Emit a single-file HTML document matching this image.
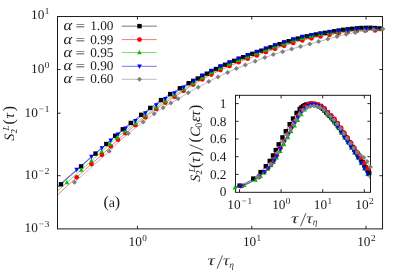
<!DOCTYPE html>
<html><head><meta charset="utf-8"><title>S2L(tau)</title>
<style>
html,body{margin:0;padding:0;background:#fff;}
body{width:407px;height:272px;overflow:hidden;font-family:"Liberation Serif",serif;}
svg{display:block;}
svg{font-family:"Liberation Serif",serif;font-size:13.3px;}
svg text{font-family:"Liberation Serif",serif;fill:#1a1a1a;text-rendering:geometricPrecision;}
</style></head>
<body>
<svg width="407" height="272" viewBox="0 0 407 272">
<defs>
<clipPath id="cm"><rect x="57.5" y="16.55" width="325.05" height="212.35"/></clipPath>
<clipPath id="ci"><rect x="235.5" y="95.3" width="135.00" height="97.00"/></clipPath>
</defs>
<rect width="407" height="272" fill="#fff"/>
<!-- inset background is transparent (gnuplot multiplot) -->
<g id="axes">
<rect x="57.5" y="16.55" width="325.05" height="212.35" fill="none" stroke="#111" stroke-width="0.95"/>
<path d="M57.5 69.5h3.1M382.55 69.5h-3.1" stroke="#111" stroke-width="0.9"/>
<path d="M57.5 113.2h3.1M382.55 113.2h-3.1" stroke="#111" stroke-width="0.9"/>
<path d="M57.5 175.7h3.1M382.55 175.7h-3.1" stroke="#111" stroke-width="0.9"/>
<path d="M137.45 228.9v-3.1M137.45 16.55v3.1" stroke="#111" stroke-width="0.9"/>
<path d="M251.75 228.9v-3.1M251.75 16.55v3.1" stroke="#111" stroke-width="0.9"/>
<path d="M366.05 228.9v-3.1M366.05 16.55v3.1" stroke="#111" stroke-width="0.9"/>
<rect x="235.5" y="95.3" width="135.00" height="97.00" fill="none" stroke="#111" stroke-width="0.95"/>
<path d="M235.5 174.40h3.1M370.5 174.40h-3.1" stroke="#111" stroke-width="0.9"/>
<path d="M235.5 156.70h3.1M370.5 156.70h-3.1" stroke="#111" stroke-width="0.9"/>
<path d="M235.5 139.00h3.1M370.5 139.00h-3.1" stroke="#111" stroke-width="0.9"/>
<path d="M235.5 121.30h3.1M370.5 121.30h-3.1" stroke="#111" stroke-width="0.9"/>
<path d="M235.5 103.60h3.1M370.5 103.60h-3.1" stroke="#111" stroke-width="0.9"/>
<path d="M239.50 192.3v-3.1M239.50 95.3v3.1" stroke="#111" stroke-width="0.9"/>
<path d="M281.10 192.3v-3.1M281.10 95.3v3.1" stroke="#111" stroke-width="0.9"/>
<path d="M322.70 192.3v-3.1M322.70 95.3v3.1" stroke="#111" stroke-width="0.9"/>
<path d="M364.30 192.3v-3.1M364.30 95.3v3.1" stroke="#111" stroke-width="0.9"/>
</g>
<g id="series" style="filter:blur(0.35px)">
<g clip-path="url(#cm)"><path d="M57.50 187.39L59.84 185.33L62.18 183.26L64.52 181.18L66.85 179.10L69.19 177.02L71.53 174.93L73.87 172.85L76.21 170.76L78.55 168.67L80.88 166.59L83.22 164.51L85.56 162.43L87.90 160.35L90.24 158.28L92.58 156.20L94.92 154.12L97.25 152.04L99.59 149.98L101.93 147.91L104.27 145.83L106.61 143.72L108.95 141.56L111.29 139.38L113.62 137.22L115.96 135.13L118.30 133.09L120.64 131.10L122.98 129.15L125.32 127.26L127.65 125.41L129.99 123.58L132.33 121.74L134.67 119.91L137.01 118.09L139.35 116.27L141.69 114.47L144.02 112.68L146.36 110.89L148.70 109.13L151.04 107.37L153.38 105.61L155.72 103.87L158.06 102.16L160.39 100.50L162.73 98.91L165.07 97.36L167.41 95.85L169.75 94.37L172.09 92.93L174.42 91.54L176.76 90.16L179.10 88.76L181.44 87.34L183.78 85.94L186.12 84.58L188.46 83.30L190.79 82.07L193.13 80.89L195.47 79.70L197.81 78.50L200.15 77.26L202.49 76.02L204.82 74.78L207.16 73.55L209.50 72.32L211.84 71.11L214.18 69.91L216.52 68.75L218.86 67.60L221.19 66.49L223.53 65.40L225.87 64.36L228.21 63.34L230.55 62.35L232.89 61.38L235.23 60.41L237.56 59.46L239.90 58.52L242.24 57.59L244.58 56.70L246.92 55.82L249.26 54.96L251.59 54.11L253.93 53.28L256.27 52.46L258.61 51.65L260.95 50.82L263.29 49.97L265.63 49.10L267.96 48.24L270.30 47.39L272.64 46.56L274.98 45.74L277.32 44.94L279.66 44.15L281.99 43.37L284.33 42.61L286.67 41.86L289.01 41.14L291.35 40.42L293.69 39.72L296.03 39.04L298.36 38.40L300.70 37.79L303.04 37.20L305.38 36.64L307.72 36.12L310.06 35.63L312.40 35.16L314.73 34.71L317.07 34.28L319.41 33.86L321.75 33.45L324.09 33.03L326.43 32.62L328.76 32.22L331.10 31.82L333.44 31.42L335.78 31.02L338.12 30.62L340.46 30.23L342.80 29.89L345.13 29.59L347.47 29.32L349.81 29.06L352.15 28.81L354.49 28.57L356.83 28.33L359.17 28.12L361.50 27.99L363.84 27.91L366.18 27.85L368.52 27.81L370.86 27.81L373.20 27.90L375.53 28.07L377.87 28.27L380.21 28.46L382.55 28.67" fill="none" stroke="#000000" stroke-width="0.55" /></g>
<rect x="58.80" y="182.10" width="4.40" height="4.40" fill="#000000"/>
<rect x="78.90" y="164.20" width="4.40" height="4.40" fill="#000000"/>
<rect x="93.30" y="151.40" width="4.40" height="4.40" fill="#000000"/>
<rect x="104.10" y="141.80" width="4.40" height="4.40" fill="#000000"/>
<rect x="113.00" y="133.60" width="4.40" height="4.40" fill="#000000"/>
<rect x="120.60" y="127.10" width="4.40" height="4.40" fill="#000000"/>
<rect x="128.60" y="120.74" width="4.40" height="4.40" fill="#000000"/>
<rect x="139.00" y="112.65" width="4.40" height="4.40" fill="#000000"/>
<rect x="148.10" y="105.73" width="4.40" height="4.40" fill="#000000"/>
<rect x="158.80" y="97.89" width="4.40" height="4.40" fill="#000000"/>
<rect x="168.00" y="91.89" width="4.40" height="4.40" fill="#000000"/>
<rect x="177.70" y="86.08" width="4.40" height="4.40" fill="#000000"/>
<rect x="186.45" y="80.99" width="4.40" height="4.40" fill="#000000"/>
<rect x="191.00" y="78.66" width="4.40" height="4.40" fill="#000000"/>
<rect x="195.54" y="76.34" width="4.40" height="4.40" fill="#000000"/>
<rect x="200.09" y="73.92" width="4.40" height="4.40" fill="#000000"/>
<rect x="204.63" y="71.53" width="4.40" height="4.40" fill="#000000"/>
<rect x="209.18" y="69.15" width="4.40" height="4.40" fill="#000000"/>
<rect x="213.72" y="66.84" width="4.40" height="4.40" fill="#000000"/>
<rect x="218.27" y="64.63" width="4.40" height="4.40" fill="#000000"/>
<rect x="222.81" y="62.54" width="4.40" height="4.40" fill="#000000"/>
<rect x="227.36" y="60.57" width="4.40" height="4.40" fill="#000000"/>
<rect x="231.90" y="58.68" width="4.40" height="4.40" fill="#000000"/>
<rect x="236.45" y="56.82" width="4.40" height="4.40" fill="#000000"/>
<rect x="240.99" y="55.03" width="4.40" height="4.40" fill="#000000"/>
<rect x="245.54" y="53.32" width="4.40" height="4.40" fill="#000000"/>
<rect x="250.08" y="51.66" width="4.40" height="4.40" fill="#000000"/>
<rect x="254.62" y="50.07" width="4.40" height="4.40" fill="#000000"/>
<rect x="259.17" y="48.47" width="4.40" height="4.40" fill="#000000"/>
<rect x="263.72" y="46.79" width="4.40" height="4.40" fill="#000000"/>
<rect x="268.26" y="45.14" width="4.40" height="4.40" fill="#000000"/>
<rect x="272.81" y="43.53" width="4.40" height="4.40" fill="#000000"/>
<rect x="277.35" y="41.98" width="4.40" height="4.40" fill="#000000"/>
<rect x="281.90" y="40.49" width="4.40" height="4.40" fill="#000000"/>
<rect x="286.44" y="39.05" width="4.40" height="4.40" fill="#000000"/>
<rect x="290.99" y="37.67" width="4.40" height="4.40" fill="#000000"/>
<rect x="295.53" y="36.37" width="4.40" height="4.40" fill="#000000"/>
<rect x="300.07" y="35.19" width="4.40" height="4.40" fill="#000000"/>
<rect x="304.62" y="34.12" width="4.40" height="4.40" fill="#000000"/>
<rect x="309.17" y="33.16" width="4.40" height="4.40" fill="#000000"/>
<rect x="313.71" y="32.29" width="4.40" height="4.40" fill="#000000"/>
<rect x="318.26" y="31.48" width="4.40" height="4.40" fill="#000000"/>
<rect x="322.80" y="30.67" width="4.40" height="4.40" fill="#000000"/>
<rect x="327.35" y="29.89" width="4.40" height="4.40" fill="#000000"/>
<rect x="331.89" y="29.11" width="4.40" height="4.40" fill="#000000"/>
<rect x="336.44" y="28.33" width="4.40" height="4.40" fill="#000000"/>
<rect x="340.98" y="27.64" width="4.40" height="4.40" fill="#000000"/>
<rect x="345.53" y="27.09" width="4.40" height="4.40" fill="#000000"/>
<rect x="350.07" y="26.60" width="4.40" height="4.40" fill="#000000"/>
<rect x="354.62" y="26.13" width="4.40" height="4.40" fill="#000000"/>
<rect x="359.16" y="25.80" width="4.40" height="4.40" fill="#000000"/>
<rect x="363.70" y="25.66" width="4.40" height="4.40" fill="#000000"/>
<rect x="368.25" y="25.60" width="4.40" height="4.40" fill="#000000"/>
<rect x="372.80" y="25.83" width="4.40" height="4.40" fill="#000000"/>
<rect x="377.34" y="26.21" width="4.40" height="4.40" fill="#000000"/>
<g clip-path="url(#cm)"><path d="M57.50 194.94L59.84 192.78L62.18 190.62L64.52 188.46L66.85 186.30L69.19 184.15L71.53 182.01L73.87 179.88L76.21 177.76L78.55 175.65L80.88 173.54L83.22 171.44L85.56 169.35L87.90 167.26L90.24 165.17L92.58 163.08L94.92 160.98L97.25 158.89L99.59 156.80L101.93 154.71L104.27 152.59L106.61 150.44L108.95 148.22L111.29 145.96L113.62 143.72L115.96 141.55L118.30 139.42L120.64 137.34L122.98 135.31L125.32 133.33L127.65 131.40L129.99 129.50L132.33 127.60L134.67 125.71L137.01 123.85L139.35 122.00L141.69 120.16L144.02 118.34L146.36 116.52L148.70 114.72L151.04 112.94L153.38 111.16L155.72 109.38L158.06 107.65L160.39 105.97L162.73 104.35L165.07 102.78L167.41 101.25L169.75 99.75L172.09 98.28L174.42 96.85L176.76 95.41L179.10 93.91L181.44 92.34L183.78 90.73L186.12 89.13L188.46 87.60L190.79 86.12L193.13 84.66L195.47 83.25L197.81 81.87L200.15 80.56L202.49 79.30L204.82 78.05L207.16 76.81L209.50 75.58L211.84 74.35L214.18 73.15L216.52 71.98L218.86 70.83L221.19 69.71L223.53 68.62L225.87 67.57L228.21 66.55L230.55 65.55L232.89 64.57L235.23 63.60L237.56 62.63L239.90 61.69L242.24 60.76L244.58 59.85L246.92 58.97L249.26 58.11L251.59 57.25L253.93 56.41L256.27 55.59L258.61 54.77L260.95 53.93L263.29 53.07L265.63 52.20L267.96 51.33L270.30 50.48L272.64 49.65L274.98 48.82L277.32 48.01L279.66 47.21L281.99 46.43L284.33 45.67L286.67 44.91L289.01 44.18L291.35 43.46L293.69 42.75L296.03 42.06L298.36 41.41L300.70 40.79L303.04 40.18L305.38 39.60L307.72 39.05L310.06 38.52L312.40 38.01L314.73 37.52L317.07 37.05L319.41 36.59L321.75 36.14L324.09 35.71L326.43 35.31L328.76 34.94L331.10 34.59L333.44 34.22L335.78 33.83L338.12 33.43L340.46 33.02L342.80 32.63L345.13 32.26L347.47 31.90L349.81 31.57L352.15 31.27L354.49 30.99L356.83 30.73L359.17 30.52L361.50 30.39L363.84 30.31L366.18 30.25L368.52 30.21L370.86 30.21L373.20 30.31L375.53 30.49L377.87 30.70L380.21 30.90L382.55 31.11" fill="none" stroke="#ff0000" stroke-width="0.55" /></g>
<circle cx="76.70" cy="177.31" r="2.40" fill="#ff0000"/>
<circle cx="91.50" cy="164.04" r="2.40" fill="#ff0000"/>
<circle cx="101.90" cy="154.74" r="2.40" fill="#ff0000"/>
<circle cx="110.80" cy="146.43" r="2.40" fill="#ff0000"/>
<circle cx="118.00" cy="139.70" r="2.40" fill="#ff0000"/>
<circle cx="125.50" cy="133.18" r="2.40" fill="#ff0000"/>
<circle cx="135.40" cy="125.13" r="2.40" fill="#ff0000"/>
<circle cx="145.40" cy="117.27" r="2.40" fill="#ff0000"/>
<circle cx="156.30" cy="108.95" r="2.40" fill="#ff0000"/>
<circle cx="165.30" cy="102.63" r="2.40" fill="#ff0000"/>
<circle cx="174.60" cy="96.74" r="2.40" fill="#ff0000"/>
<circle cx="183.60" cy="90.85" r="2.40" fill="#ff0000"/>
<circle cx="193.20" cy="84.62" r="2.40" fill="#ff0000"/>
<circle cx="202.29" cy="79.40" r="2.40" fill="#ff0000"/>
<circle cx="211.38" cy="74.59" r="2.40" fill="#ff0000"/>
<circle cx="220.47" cy="70.05" r="2.40" fill="#ff0000"/>
<circle cx="229.56" cy="65.97" r="2.40" fill="#ff0000"/>
<circle cx="238.65" cy="62.19" r="2.40" fill="#ff0000"/>
<circle cx="247.74" cy="58.67" r="2.40" fill="#ff0000"/>
<circle cx="256.83" cy="55.39" r="2.40" fill="#ff0000"/>
<circle cx="265.92" cy="52.09" r="2.40" fill="#ff0000"/>
<circle cx="275.01" cy="48.81" r="2.40" fill="#ff0000"/>
<circle cx="284.10" cy="45.74" r="2.40" fill="#ff0000"/>
<circle cx="293.19" cy="42.90" r="2.40" fill="#ff0000"/>
<circle cx="302.28" cy="40.38" r="2.40" fill="#ff0000"/>
<circle cx="311.37" cy="38.23" r="2.40" fill="#ff0000"/>
<circle cx="320.46" cy="36.38" r="2.40" fill="#ff0000"/>
<circle cx="329.55" cy="34.82" r="2.40" fill="#ff0000"/>
<circle cx="338.64" cy="33.34" r="2.40" fill="#ff0000"/>
<circle cx="347.73" cy="31.86" r="2.40" fill="#ff0000"/>
<circle cx="356.82" cy="30.73" r="2.40" fill="#ff0000"/>
<circle cx="365.91" cy="30.26" r="2.40" fill="#ff0000"/>
<circle cx="375.00" cy="30.44" r="2.40" fill="#ff0000"/>
<g clip-path="url(#cm)"><path d="M57.50 190.88L59.84 188.84L62.18 186.79L64.52 184.73L66.85 182.66L69.19 180.59L71.53 178.51L73.87 176.44L76.21 174.35L78.55 172.27L80.88 170.19L83.22 168.11L85.56 166.02L87.90 163.93L90.24 161.83L92.58 159.73L94.92 157.63L97.25 155.53L99.59 153.44L101.93 151.35L104.27 149.25L106.61 147.13L108.95 144.96L111.29 142.79L113.62 140.66L115.96 138.63L118.30 136.68L120.64 134.77L122.98 132.91L125.32 131.09L127.65 129.29L129.99 127.48L132.33 125.64L134.67 123.81L137.01 121.99L139.35 120.17L141.69 118.37L144.02 116.58L146.36 114.79L148.70 113.01L151.04 111.24L153.38 109.46L155.72 107.69L158.06 105.95L160.39 104.26L162.73 102.64L165.07 101.06L167.41 99.52L169.75 98.02L172.09 96.56L174.42 95.13L176.76 93.72L179.10 92.28L181.44 90.79L183.78 89.24L186.12 87.66L188.46 86.12L190.79 84.65L193.13 83.22L195.47 81.80L197.81 80.39L200.15 79.01L202.49 77.71L204.82 76.43L207.16 75.17L209.50 73.90L211.84 72.65L214.18 71.42L216.52 70.22L218.86 69.05L221.19 67.91L223.53 66.79L225.87 65.72L228.21 64.68L230.55 63.67L232.89 62.67L235.23 61.68L237.56 60.70L239.90 59.74L242.24 58.80L244.58 57.89L246.92 56.99L249.26 56.12L251.59 55.25L253.93 54.40L256.27 53.57L258.61 52.74L260.95 51.90L263.29 51.04L265.63 50.16L267.96 49.28L270.30 48.43L272.64 47.59L274.98 46.76L277.32 45.94L279.66 45.14L281.99 44.35L284.33 43.58L286.67 42.82L289.01 42.08L291.35 41.36L293.69 40.65L296.03 39.96L298.36 39.31L300.70 38.69L303.04 38.09L305.38 37.52L307.72 36.98L310.06 36.48L312.40 36.00L314.73 35.54L317.07 35.10L319.41 34.67L321.75 34.26L324.09 33.88L326.43 33.52L328.76 33.19L331.10 32.88L333.44 32.57L335.78 32.25L338.12 31.92L340.46 31.60L342.80 31.29L345.13 31.00L347.47 30.72L349.81 30.45L352.15 30.20L354.49 29.95L356.83 29.70L359.17 29.48L361.50 29.35L363.84 29.26L366.18 29.19L368.52 29.15L370.86 29.14L373.20 29.23L375.53 29.39L377.87 29.59L380.21 29.78L382.55 29.98" fill="none" stroke="#00c000" stroke-width="0.55" /></g>
<path d="M66.90 179.97L69.20 184.34L64.60 184.34Z" fill="#00c000"/>
<path d="M81.20 167.27L83.50 171.64L78.90 171.64Z" fill="#00c000"/>
<path d="M91.40 158.14L93.70 162.51L89.10 162.51Z" fill="#00c000"/>
<path d="M101.60 149.00L103.90 153.37L99.30 153.37Z" fill="#00c000"/>
<path d="M110.00 141.33L112.30 145.70L107.70 145.70Z" fill="#00c000"/>
<path d="M117.00 135.11L119.30 139.48L114.70 139.48Z" fill="#00c000"/>
<path d="M125.50 128.31L127.80 132.68L123.20 132.68Z" fill="#00c000"/>
<path d="M135.40 120.59L137.70 124.96L133.10 124.96Z" fill="#00c000"/>
<path d="M145.40 112.88L147.70 117.25L143.10 117.25Z" fill="#00c000"/>
<path d="M156.30 104.61L158.60 108.98L154.00 108.98Z" fill="#00c000"/>
<path d="M165.30 98.26L167.60 102.63L163.00 102.63Z" fill="#00c000"/>
<path d="M174.60 92.38L176.90 96.75L172.30 96.75Z" fill="#00c000"/>
<path d="M183.60 86.71L185.90 91.08L181.30 91.08Z" fill="#00c000"/>
<path d="M193.20 80.53L195.50 84.90L190.90 84.90Z" fill="#00c000"/>
<path d="M202.29 75.17L204.59 79.54L199.99 79.54Z" fill="#00c000"/>
<path d="M211.38 70.25L213.68 74.62L209.08 74.62Z" fill="#00c000"/>
<path d="M220.47 65.61L222.77 69.98L218.17 69.98Z" fill="#00c000"/>
<path d="M229.56 61.45L231.86 65.82L227.26 65.82Z" fill="#00c000"/>
<path d="M238.65 57.61L240.95 61.98L236.35 61.98Z" fill="#00c000"/>
<path d="M247.74 54.04L250.04 58.41L245.44 58.41Z" fill="#00c000"/>
<path d="M256.83 50.73L259.13 55.10L254.53 55.10Z" fill="#00c000"/>
<path d="M265.92 47.40L268.22 51.77L263.62 51.77Z" fill="#00c000"/>
<path d="M275.01 44.10L277.31 48.47L272.71 48.47Z" fill="#00c000"/>
<path d="M284.10 41.01L286.40 45.38L281.80 45.38Z" fill="#00c000"/>
<path d="M293.19 38.15L295.49 42.52L290.89 42.52Z" fill="#00c000"/>
<path d="M302.28 35.63L304.58 40.00L299.98 40.00Z" fill="#00c000"/>
<path d="M311.37 33.56L313.67 37.93L309.07 37.93Z" fill="#00c000"/>
<path d="M320.46 31.84L322.76 36.21L318.16 36.21Z" fill="#00c000"/>
<path d="M329.55 30.44L331.85 34.81L327.25 34.81Z" fill="#00c000"/>
<path d="M338.64 29.20L340.94 33.57L336.34 33.57Z" fill="#00c000"/>
<path d="M347.73 28.04L350.03 32.41L345.43 32.41Z" fill="#00c000"/>
<path d="M356.82 27.05L359.12 31.42L354.52 31.42Z" fill="#00c000"/>
<path d="M365.91 26.56L368.21 30.93L363.61 30.93Z" fill="#00c000"/>
<path d="M375.00 26.71L377.30 31.08L372.70 31.08Z" fill="#00c000"/>
<g clip-path="url(#cm)"><path d="M57.50 186.40L59.84 184.35L62.18 182.30L64.52 180.24L66.85 178.18L69.19 176.12L71.53 174.05L73.87 171.99L76.21 169.94L78.55 167.88L80.88 165.84L83.22 163.79L85.56 161.75L87.90 159.72L90.24 157.68L92.58 155.68L94.92 153.71L97.25 151.77L99.59 149.86L101.93 147.94L104.27 145.99L106.61 144.00L108.95 141.95L111.29 139.87L113.62 137.82L115.96 135.83L118.30 133.91L120.64 132.04L122.98 130.23L125.32 128.44L127.65 126.66L129.99 124.88L132.33 123.09L134.67 121.30L137.01 119.49L139.35 117.69L141.69 115.90L144.02 114.12L146.36 112.34L148.70 110.58L151.04 108.83L153.38 107.08L155.72 105.35L158.06 103.64L160.39 101.99L162.73 100.40L165.07 98.85L167.41 97.35L169.75 95.87L172.09 94.43L174.42 93.04L176.76 91.64L179.10 90.20L181.44 88.68L183.78 87.12L186.12 85.55L188.46 84.01L190.79 82.53L193.13 81.00L195.47 79.43L197.81 77.88L200.15 76.42L202.49 75.12L204.82 73.88L207.16 72.65L209.50 71.42L211.84 70.21L214.18 69.01L216.52 67.85L218.86 66.71L221.19 65.59L223.53 64.51L225.87 63.46L228.21 62.45L230.55 61.46L232.89 60.49L235.23 59.52L237.56 58.57L239.90 57.63L242.24 56.71L244.58 55.81L246.92 54.94L249.26 54.08L251.59 53.23L253.93 52.40L256.27 51.59L258.61 50.78L260.95 49.95L263.29 49.10L265.63 48.24L267.96 47.38L270.30 46.54L272.64 45.71L274.98 44.90L277.32 44.09L279.66 43.31L281.99 42.54L284.33 41.78L286.67 41.04L289.01 40.31L291.35 39.60L293.69 38.91L296.03 38.24L298.36 37.60L300.70 36.99L303.04 36.41L305.38 35.87L307.72 35.37L310.06 34.90L312.40 34.46L314.73 34.04L317.07 33.65L319.41 33.27L321.75 32.91L324.09 32.58L326.43 32.27L328.76 31.99L331.10 31.74L333.44 31.50L335.78 31.26L338.12 31.03L340.46 30.80L342.80 30.59L345.13 30.38L347.47 30.17L349.81 29.95L352.15 29.71L354.49 29.47L356.83 29.23L359.17 29.02L361.50 28.89L363.84 28.81L366.18 28.75L368.52 28.71L370.86 28.71L373.20 28.80L375.53 28.97L377.87 29.17L380.21 29.36L382.55 29.57" fill="none" stroke="#0000ff" stroke-width="0.55" /></g>
<path d="M76.70 172.15L79.00 167.78L74.40 167.78Z" fill="#0000ff"/>
<path d="M91.50 159.24L93.80 154.87L89.20 154.87Z" fill="#0000ff"/>
<path d="M101.90 150.61L104.20 146.24L99.60 146.24Z" fill="#0000ff"/>
<path d="M110.80 142.95L113.10 138.58L108.50 138.58Z" fill="#0000ff"/>
<path d="M118.00 136.80L120.30 132.43L115.70 132.43Z" fill="#0000ff"/>
<path d="M125.50 130.94L127.80 126.57L123.20 126.57Z" fill="#0000ff"/>
<path d="M135.40 123.38L137.70 119.01L133.10 119.01Z" fill="#0000ff"/>
<path d="M145.40 115.72L147.70 111.35L143.10 111.35Z" fill="#0000ff"/>
<path d="M156.30 107.56L158.60 103.19L154.00 103.19Z" fill="#0000ff"/>
<path d="M165.30 101.35L167.60 96.98L163.00 96.98Z" fill="#0000ff"/>
<path d="M174.60 95.58L176.90 91.21L172.30 91.21Z" fill="#0000ff"/>
<path d="M183.60 89.88L185.90 85.51L181.30 85.51Z" fill="#0000ff"/>
<path d="M193.20 83.60L195.50 79.23L190.90 79.23Z" fill="#0000ff"/>
<path d="M202.29 77.86L204.59 73.49L199.99 73.49Z" fill="#0000ff"/>
<path d="M211.38 73.09L213.68 68.72L209.08 68.72Z" fill="#0000ff"/>
<path d="M220.47 68.58L222.77 64.21L218.17 64.21Z" fill="#0000ff"/>
<path d="M229.56 64.52L231.86 60.15L227.26 60.15Z" fill="#0000ff"/>
<path d="M238.65 60.77L240.95 56.40L236.35 56.40Z" fill="#0000ff"/>
<path d="M247.74 57.28L250.04 52.91L245.44 52.91Z" fill="#0000ff"/>
<path d="M256.83 54.04L259.13 49.67L254.53 49.67Z" fill="#0000ff"/>
<path d="M265.92 50.78L268.22 46.41L263.62 46.41Z" fill="#0000ff"/>
<path d="M275.01 47.53L277.31 43.16L272.71 43.16Z" fill="#0000ff"/>
<path d="M284.10 44.50L286.40 40.13L281.80 40.13Z" fill="#0000ff"/>
<path d="M293.19 41.70L295.49 37.33L290.89 37.33Z" fill="#0000ff"/>
<path d="M302.28 39.24L304.58 34.87L299.98 34.87Z" fill="#0000ff"/>
<path d="M311.37 37.29L313.67 32.92L309.07 32.92Z" fill="#0000ff"/>
<path d="M320.46 35.75L322.76 31.38L318.16 31.38Z" fill="#0000ff"/>
<path d="M329.55 34.55L331.85 30.18L327.25 30.18Z" fill="#0000ff"/>
<path d="M338.64 33.62L340.94 29.25L336.34 29.25Z" fill="#0000ff"/>
<path d="M347.73 32.79L350.03 28.42L345.43 28.42Z" fill="#0000ff"/>
<path d="M356.82 31.87L359.12 27.50L354.52 27.50Z" fill="#0000ff"/>
<path d="M365.91 31.40L368.21 27.03L363.61 27.03Z" fill="#0000ff"/>
<path d="M375.00 31.57L377.30 27.20L372.70 27.20Z" fill="#0000ff"/>
<g clip-path="url(#cm)"><path d="M74.50 182.26L76.21 180.74L78.55 178.66L80.88 176.58L83.22 174.50L85.56 172.43L87.90 170.35L90.24 168.27L92.58 166.20L94.92 164.12L97.25 162.04L99.59 159.98L101.93 157.91L104.27 155.83L106.61 153.72L108.95 151.56L111.29 149.33L113.62 147.03L115.96 144.74L118.30 142.46L120.64 140.23L122.98 138.06L125.32 135.99L127.65 134.03L129.99 132.18L132.33 130.35L134.67 128.53L137.01 126.73L139.35 124.94L141.69 123.17L144.02 121.40L146.36 119.65L148.70 117.91L151.04 116.18L153.38 114.46L155.72 112.77L158.06 111.11L160.39 109.51L162.73 107.98L165.07 106.50L167.41 105.05L169.75 103.64L172.09 102.27L174.42 100.93L176.76 99.60L179.10 98.26L181.44 96.87L183.78 95.44L186.12 94.02L188.46 92.63L190.79 91.28L193.13 89.98L195.47 88.70L197.81 87.42L200.15 86.16L202.49 84.92L204.82 83.68L207.16 82.45L209.50 81.22L211.84 80.01L214.18 78.81L216.52 77.65L218.86 76.50L221.19 75.38L223.53 74.27L225.87 73.20L228.21 72.15L230.55 71.12L232.89 70.10L235.23 69.09L237.56 68.09L239.90 67.10L242.24 66.14L244.58 65.20L246.92 64.29L249.26 63.38L251.59 62.49L253.93 61.61L256.27 60.75L258.61 59.90L260.95 59.04L263.29 58.17L265.63 57.30L267.96 56.45L270.30 55.62L272.64 54.82L274.98 54.04L277.32 53.28L279.66 52.54L281.99 51.81L284.33 51.10L286.67 50.40L289.01 49.72L291.35 49.04L293.69 48.38L296.03 47.73L298.36 47.10L300.70 46.49L303.04 45.86L305.38 45.22L307.72 44.58L310.06 43.93L312.40 43.29L314.73 42.65L317.07 42.03L319.41 41.41L321.75 40.80L324.09 40.15L326.43 39.48L328.76 38.82L331.10 38.16L333.44 37.51L335.78 36.86L338.12 36.24L340.46 35.63L342.80 35.04L345.13 34.48L347.47 33.97L349.81 33.50L352.15 33.06L354.49 32.63L356.83 32.20L359.17 31.80L361.50 31.46L363.84 31.13L366.18 30.77L368.52 30.38L370.86 30.00L373.20 29.72L375.53 29.52L377.87 29.29L380.21 29.08L382.55 29.00" fill="none" stroke="#7f7f7f" stroke-width="0.55" /></g>
<path d="M74.50 179.76L77.00 182.26L74.50 184.76L72.00 182.26Z" fill="#7f7f7f"/>
<path d="M109.20 148.83L111.70 151.33L109.20 153.83L106.70 151.33Z" fill="#7f7f7f"/>
<path d="M128.20 131.09L130.70 133.59L128.20 136.09L125.70 133.59Z" fill="#7f7f7f"/>
<path d="M143.20 119.52L145.70 122.02L143.20 124.52L140.70 122.02Z" fill="#7f7f7f"/>
<path d="M154.20 111.36L156.70 113.86L154.20 116.36L151.70 113.86Z" fill="#7f7f7f"/>
<path d="M163.10 105.25L165.60 107.75L163.10 110.25L160.60 107.75Z" fill="#7f7f7f"/>
<path d="M170.80 100.51L173.30 103.01L170.80 105.51L168.30 103.01Z" fill="#7f7f7f"/>
<path d="M178.10 96.34L180.60 98.84L178.10 101.34L175.60 98.84Z" fill="#7f7f7f"/>
<path d="M188.30 90.22L190.80 92.72L188.30 95.22L185.80 92.72Z" fill="#7f7f7f"/>
<path d="M198.20 84.71L200.70 87.21L198.20 89.71L195.70 87.21Z" fill="#7f7f7f"/>
<path d="M208.80 79.09L211.30 81.59L208.80 84.09L206.30 81.59Z" fill="#7f7f7f"/>
<path d="M218.00 74.42L220.50 76.92L218.00 79.42L215.50 76.92Z" fill="#7f7f7f"/>
<path d="M227.60 69.92L230.10 72.42L227.60 74.92L225.10 72.42Z" fill="#7f7f7f"/>
<path d="M236.40 66.09L238.90 68.59L236.40 71.09L233.90 68.59Z" fill="#7f7f7f"/>
<path d="M245.30 62.42L247.80 64.92L245.30 67.42L242.80 64.92Z" fill="#7f7f7f"/>
<path d="M255.20 58.64L257.70 61.14L255.20 63.64L252.70 61.14Z" fill="#7f7f7f"/>
<path d="M264.80 55.11L267.30 57.61L264.80 60.11L262.30 57.61Z" fill="#7f7f7f"/>
<path d="M273.30 52.10L275.80 54.60L273.30 57.10L270.80 54.60Z" fill="#7f7f7f"/>
<path d="M282.60 49.13L285.10 51.63L282.60 54.13L280.10 51.63Z" fill="#7f7f7f"/>
<path d="M291.60 46.47L294.10 48.97L291.60 51.47L289.10 48.97Z" fill="#7f7f7f"/>
<path d="M300.50 44.04L303.00 46.54L300.50 49.04L298.00 46.54Z" fill="#7f7f7f"/>
<path d="M309.80 41.50L312.30 44.00L309.80 46.50L307.30 44.00Z" fill="#7f7f7f"/>
<path d="M318.60 39.12L321.10 41.62L318.60 44.12L316.10 41.62Z" fill="#7f7f7f"/>
<path d="M327.80 36.59L330.30 39.09L327.80 41.59L325.30 39.09Z" fill="#7f7f7f"/>
<path d="M337.00 34.04L339.50 36.54L337.00 39.04L334.50 36.54Z" fill="#7f7f7f"/>
<path d="M346.20 31.74L348.70 34.24L346.20 36.74L343.70 34.24Z" fill="#7f7f7f"/>
<path d="M355.20 30.00L357.70 32.50L355.20 35.00L352.70 32.50Z" fill="#7f7f7f"/>
<path d="M364.70 28.50L367.20 31.00L364.70 33.50L362.20 31.00Z" fill="#7f7f7f"/>
<path d="M373.70 27.18L376.20 29.68L373.70 32.18L371.20 29.68Z" fill="#7f7f7f"/>
<path d="M382.90 26.50L385.40 29.00L382.90 31.50L380.40 29.00Z" fill="#7f7f7f"/>
<g clip-path="url(#ci)"><path d="M235.50 186.83L236.63 186.52L237.77 186.19L238.90 185.84L240.04 185.45L241.17 185.02L242.31 184.54L243.44 184.03L244.58 183.50L245.71 182.94L246.84 182.38L247.98 181.80L249.11 181.20L250.25 180.56L251.38 179.87L252.52 179.12L253.65 178.30L254.79 177.41L255.92 176.46L257.05 175.46L258.19 174.42L259.32 173.36L260.46 172.26L261.59 171.10L262.73 169.88L263.86 168.60L265.00 167.27L266.13 165.88L267.26 164.42L268.40 162.88L269.53 161.25L270.67 159.50L271.80 157.61L272.94 155.62L274.07 153.53L275.21 151.26L276.34 148.92L277.47 146.64L278.61 144.49L279.74 142.41L280.88 140.34L282.01 138.26L283.15 136.14L284.28 134.00L285.42 131.88L286.55 129.80L287.68 127.74L288.82 125.72L289.95 123.73L291.09 121.78L292.22 119.86L293.36 117.99L294.49 116.15L295.63 114.30L296.76 112.59L297.89 111.11L299.03 109.78L300.16 108.58L301.30 107.56L302.43 106.69L303.57 105.89L304.70 105.22L305.84 104.75L306.97 104.44L308.11 104.16L309.24 103.94L310.37 103.82L311.51 103.82L312.64 103.95L313.78 104.19L314.91 104.49L316.05 104.81L317.18 105.21L318.32 105.72L319.45 106.34L320.58 107.03L321.72 107.83L322.85 108.84L323.99 110.02L325.12 111.27L326.26 112.52L327.39 113.70L328.53 114.84L329.66 115.99L330.79 117.18L331.93 118.42L333.06 119.73L334.20 121.10L335.33 122.52L336.47 123.98L337.60 125.47L338.74 126.99L339.87 128.57L341.00 130.19L342.14 131.83L343.27 133.46L344.41 135.08L345.54 136.68L346.68 138.28L347.81 139.89L348.95 141.52L350.08 143.18L351.21 144.86L352.35 146.55L353.48 148.24L354.62 149.93L355.75 151.61L356.89 153.26L358.02 154.92L359.16 156.61L360.29 158.35L361.42 160.15L362.56 161.99L363.69 163.85L364.83 165.72L365.96 167.59L367.10 169.48L368.23 171.37L369.37 173.28L370.50 175.18" fill="none" stroke="#000000" stroke-width="0.55" /></g>
<rect x="237.43" y="183.40" width="4.40" height="4.40" fill="#000000"/>
<rect x="251.08" y="176.38" width="4.40" height="4.40" fill="#000000"/>
<rect x="258.39" y="169.93" width="4.40" height="4.40" fill="#000000"/>
<rect x="263.63" y="164.05" width="4.40" height="4.40" fill="#000000"/>
<rect x="267.56" y="158.71" width="4.40" height="4.40" fill="#000000"/>
<rect x="270.80" y="153.30" width="4.40" height="4.40" fill="#000000"/>
<rect x="273.57" y="147.90" width="4.40" height="4.40" fill="#000000"/>
<rect x="276.48" y="142.16" width="4.40" height="4.40" fill="#000000"/>
<rect x="280.26" y="135.22" width="4.40" height="4.40" fill="#000000"/>
<rect x="283.58" y="129.01" width="4.40" height="4.40" fill="#000000"/>
<rect x="287.47" y="122.02" width="4.40" height="4.40" fill="#000000"/>
<rect x="290.82" y="116.34" width="4.40" height="4.40" fill="#000000"/>
<rect x="294.35" y="110.69" width="4.40" height="4.40" fill="#000000"/>
<rect x="297.53" y="106.81" width="4.40" height="4.40" fill="#000000"/>
<rect x="299.19" y="105.29" width="4.40" height="4.40" fill="#000000"/>
<rect x="300.84" y="104.05" width="4.40" height="4.40" fill="#000000"/>
<rect x="302.50" y="103.03" width="4.40" height="4.40" fill="#000000"/>
<rect x="304.15" y="102.40" width="4.40" height="4.40" fill="#000000"/>
<rect x="305.81" y="101.98" width="4.40" height="4.40" fill="#000000"/>
<rect x="307.46" y="101.69" width="4.40" height="4.40" fill="#000000"/>
<rect x="309.11" y="101.61" width="4.40" height="4.40" fill="#000000"/>
<rect x="310.77" y="101.81" width="4.40" height="4.40" fill="#000000"/>
<rect x="312.42" y="102.21" width="4.40" height="4.40" fill="#000000"/>
<rect x="314.08" y="102.68" width="4.40" height="4.40" fill="#000000"/>
<rect x="315.73" y="103.34" width="4.40" height="4.40" fill="#000000"/>
<rect x="317.38" y="104.21" width="4.40" height="4.40" fill="#000000"/>
<rect x="319.04" y="105.26" width="4.40" height="4.40" fill="#000000"/>
<rect x="320.69" y="106.68" width="4.40" height="4.40" fill="#000000"/>
<rect x="322.35" y="108.43" width="4.40" height="4.40" fill="#000000"/>
<rect x="324.00" y="110.26" width="4.40" height="4.40" fill="#000000"/>
<rect x="325.66" y="111.97" width="4.40" height="4.40" fill="#000000"/>
<rect x="327.31" y="113.64" width="4.40" height="4.40" fill="#000000"/>
<rect x="328.96" y="115.37" width="4.40" height="4.40" fill="#000000"/>
<rect x="330.62" y="117.24" width="4.40" height="4.40" fill="#000000"/>
<rect x="332.27" y="119.24" width="4.40" height="4.40" fill="#000000"/>
<rect x="333.93" y="121.34" width="4.40" height="4.40" fill="#000000"/>
<rect x="335.58" y="123.51" width="4.40" height="4.40" fill="#000000"/>
<rect x="337.23" y="125.76" width="4.40" height="4.40" fill="#000000"/>
<rect x="338.89" y="128.11" width="4.40" height="4.40" fill="#000000"/>
<rect x="340.54" y="130.50" width="4.40" height="4.40" fill="#000000"/>
<rect x="342.20" y="132.86" width="4.40" height="4.40" fill="#000000"/>
<rect x="343.85" y="135.20" width="4.40" height="4.40" fill="#000000"/>
<rect x="345.51" y="137.54" width="4.40" height="4.40" fill="#000000"/>
<rect x="347.16" y="139.92" width="4.40" height="4.40" fill="#000000"/>
<rect x="348.81" y="142.36" width="4.40" height="4.40" fill="#000000"/>
<rect x="350.47" y="144.82" width="4.40" height="4.40" fill="#000000"/>
<rect x="352.12" y="147.29" width="4.40" height="4.40" fill="#000000"/>
<rect x="353.78" y="149.74" width="4.40" height="4.40" fill="#000000"/>
<rect x="355.43" y="152.15" width="4.40" height="4.40" fill="#000000"/>
<rect x="357.08" y="154.61" width="4.40" height="4.40" fill="#000000"/>
<rect x="358.74" y="157.17" width="4.40" height="4.40" fill="#000000"/>
<rect x="360.39" y="159.84" width="4.40" height="4.40" fill="#000000"/>
<rect x="362.05" y="162.56" width="4.40" height="4.40" fill="#000000"/>
<rect x="363.70" y="165.29" width="4.40" height="4.40" fill="#000000"/>
<rect x="365.36" y="168.04" width="4.40" height="4.40" fill="#000000"/>
<rect x="367.01" y="170.82" width="4.40" height="4.40" fill="#000000"/>
<g clip-path="url(#ci)"><path d="M235.50 187.57L236.63 187.30L237.77 187.02L238.90 186.73L240.04 186.43L241.17 186.12L242.31 185.78L243.44 185.41L244.58 184.99L245.71 184.53L246.84 184.04L247.98 183.53L249.11 182.99L250.25 182.45L251.38 181.89L252.52 181.31L253.65 180.69L254.79 180.02L255.92 179.30L257.05 178.51L258.19 177.65L259.32 176.72L260.46 175.73L261.59 174.70L262.73 173.64L263.86 172.55L265.00 171.40L266.13 170.20L267.26 168.93L268.40 167.61L269.53 166.23L270.67 164.79L271.80 163.26L272.94 161.65L274.07 159.93L275.21 158.07L276.34 156.09L277.47 154.02L278.61 151.78L279.74 149.42L280.88 147.09L282.01 144.89L283.15 142.76L284.28 140.67L285.42 138.58L286.55 136.44L287.68 134.27L288.82 132.11L289.95 129.99L291.09 127.90L292.22 125.84L293.36 123.82L294.49 121.83L295.63 119.87L296.76 117.96L297.89 116.09L299.03 114.16L300.16 112.26L301.30 110.57L302.43 109.03L303.57 107.66L304.70 106.55L305.84 105.55L306.97 104.74L308.11 104.22L309.24 103.87L310.37 103.59L311.51 103.42L312.64 103.36L313.78 103.44L314.91 103.64L316.05 103.92L317.18 104.24L318.32 104.59L319.45 105.06L320.58 105.64L321.72 106.31L322.85 107.05L323.99 107.97L325.12 109.08L326.26 110.28L327.39 111.52L328.53 112.72L329.66 113.85L330.79 114.98L331.93 116.13L333.06 117.32L334.20 118.59L335.33 119.93L336.47 121.36L337.60 122.86L338.74 124.42L339.87 126.03L341.00 127.71L342.14 129.45L343.27 131.23L344.41 133.00L345.54 134.74L346.68 136.45L347.81 138.13L348.95 139.80L350.08 141.46L351.21 143.13L352.35 144.82L353.48 146.52L354.62 148.22L355.75 149.92L356.89 151.60L358.02 153.27L359.16 154.94L360.29 156.64L361.42 158.39L362.56 160.20L363.69 162.06L364.83 163.93L365.96 165.81L367.10 167.69L368.23 169.59L369.37 171.50L370.50 173.41" fill="none" stroke="#ff0000" stroke-width="0.55" /></g>
<circle cx="241.99" cy="185.88" r="2.40" fill="#ff0000"/>
<circle cx="258.99" cy="177.00" r="2.40" fill="#ff0000"/>
<circle cx="264.38" cy="172.04" r="2.40" fill="#ff0000"/>
<circle cx="268.16" cy="167.89" r="2.40" fill="#ff0000"/>
<circle cx="271.40" cy="163.81" r="2.40" fill="#ff0000"/>
<circle cx="274.02" cy="160.01" r="2.40" fill="#ff0000"/>
<circle cx="276.75" cy="155.35" r="2.40" fill="#ff0000"/>
<circle cx="280.35" cy="148.16" r="2.40" fill="#ff0000"/>
<circle cx="283.99" cy="141.20" r="2.40" fill="#ff0000"/>
<circle cx="287.96" cy="133.75" r="2.40" fill="#ff0000"/>
<circle cx="291.24" cy="127.63" r="2.40" fill="#ff0000"/>
<circle cx="294.62" cy="121.61" r="2.40" fill="#ff0000"/>
<circle cx="297.90" cy="116.09" r="2.40" fill="#ff0000"/>
<circle cx="301.39" cy="110.44" r="2.40" fill="#ff0000"/>
<circle cx="304.70" cy="106.55" r="2.40" fill="#ff0000"/>
<circle cx="308.01" cy="104.25" r="2.40" fill="#ff0000"/>
<circle cx="311.32" cy="103.44" r="2.40" fill="#ff0000"/>
<circle cx="314.62" cy="103.58" r="2.40" fill="#ff0000"/>
<circle cx="317.93" cy="104.46" r="2.40" fill="#ff0000"/>
<circle cx="321.24" cy="106.02" r="2.40" fill="#ff0000"/>
<circle cx="324.55" cy="108.50" r="2.40" fill="#ff0000"/>
<circle cx="327.86" cy="112.03" r="2.40" fill="#ff0000"/>
<circle cx="331.17" cy="115.35" r="2.40" fill="#ff0000"/>
<circle cx="334.47" cy="118.91" r="2.40" fill="#ff0000"/>
<circle cx="337.78" cy="123.10" r="2.40" fill="#ff0000"/>
<circle cx="341.09" cy="127.84" r="2.40" fill="#ff0000"/>
<circle cx="344.40" cy="132.99" r="2.40" fill="#ff0000"/>
<circle cx="347.71" cy="137.98" r="2.40" fill="#ff0000"/>
<circle cx="351.02" cy="142.84" r="2.40" fill="#ff0000"/>
<circle cx="354.32" cy="147.78" r="2.40" fill="#ff0000"/>
<circle cx="357.63" cy="152.70" r="2.40" fill="#ff0000"/>
<circle cx="360.94" cy="157.64" r="2.40" fill="#ff0000"/>
<circle cx="364.25" cy="162.97" r="2.40" fill="#ff0000"/>
<circle cx="367.56" cy="168.46" r="2.40" fill="#ff0000"/>
<g clip-path="url(#ci)"><path d="M235.50 187.71L236.63 187.44L237.77 187.17L238.90 186.88L240.04 186.58L241.17 186.27L242.31 185.94L243.44 185.57L244.58 185.17L245.71 184.72L246.84 184.24L247.98 183.74L249.11 183.21L250.25 182.68L251.38 182.13L252.52 181.57L253.65 180.97L254.79 180.34L255.92 179.65L257.05 178.91L258.19 178.09L259.32 177.22L260.46 176.30L261.59 175.33L262.73 174.33L263.86 173.31L265.00 172.25L266.13 171.13L267.26 169.96L268.40 168.73L269.53 167.45L270.67 166.13L271.80 164.74L272.94 163.27L274.07 161.73L275.21 160.08L276.34 158.32L277.47 156.45L278.61 154.50L279.74 152.40L280.88 150.19L282.01 148.00L283.15 145.92L284.28 143.92L285.42 141.96L286.55 140.00L287.68 138.00L288.82 135.96L289.95 133.92L291.09 131.89L292.22 129.90L293.36 127.93L294.49 125.98L295.63 124.06L296.76 122.16L297.89 120.29L299.03 118.46L300.16 116.63L301.30 114.73L302.43 112.90L303.57 111.27L304.70 109.75L305.84 108.45L306.97 107.37L308.11 106.41L309.24 105.71L310.37 105.31L311.51 104.98L312.64 104.76L313.78 104.69L314.91 104.81L316.05 105.10L317.18 105.47L318.32 105.88L319.45 106.44L320.58 107.14L321.72 107.96L322.85 108.93L323.99 110.17L325.12 111.55L326.26 112.96L327.39 114.30L328.53 115.58L329.66 116.87L330.79 118.19L331.93 119.59L333.06 121.06L334.20 122.60L335.33 124.18L336.47 125.79L337.60 127.43L338.74 129.13L339.87 130.86L341.00 132.61L342.14 134.34L343.27 136.03L344.41 137.71L345.54 139.37L346.68 141.04L347.81 142.74L348.95 144.47L350.08 146.21L351.21 147.96L352.35 149.71L353.48 151.44L354.62 153.15L355.75 154.86L356.89 156.58L358.02 158.36L359.16 160.19L360.29 162.07L361.42 163.97L362.56 165.88L363.69 167.79L364.83 169.71L365.96 171.64L367.10 173.57L368.23 175.51L369.37 177.44L370.50 179.37" fill="none" stroke="#00c000" stroke-width="0.55" /></g>
<path d="M234.90 185.21L237.20 189.58L232.60 189.58Z" fill="#00c000"/>
<path d="M244.18 182.67L246.48 187.04L241.88 187.04Z" fill="#00c000"/>
<path d="M255.42 177.31L257.72 181.68L253.12 181.68Z" fill="#00c000"/>
<path d="M260.63 173.51L262.93 177.88L258.33 177.88Z" fill="#00c000"/>
<path d="M264.34 170.22L266.64 174.59L262.04 174.59Z" fill="#00c000"/>
<path d="M268.05 166.46L270.35 170.83L265.75 170.83Z" fill="#00c000"/>
<path d="M271.11 162.95L273.41 167.32L268.81 167.32Z" fill="#00c000"/>
<path d="M273.66 159.66L275.96 164.03L271.36 164.03Z" fill="#00c000"/>
<path d="M276.75 155.01L279.05 159.38L274.45 159.38Z" fill="#00c000"/>
<path d="M280.35 148.57L282.65 152.94L278.05 152.94Z" fill="#00c000"/>
<path d="M283.99 141.78L286.29 146.15L281.69 146.15Z" fill="#00c000"/>
<path d="M287.96 134.86L290.26 139.23L285.66 139.23Z" fill="#00c000"/>
<path d="M291.24 128.99L293.54 133.36L288.94 133.36Z" fill="#00c000"/>
<path d="M294.62 123.11L296.92 127.48L292.32 127.48Z" fill="#00c000"/>
<path d="M297.90 117.64L300.20 122.01L295.60 122.01Z" fill="#00c000"/>
<path d="M301.39 111.93L303.69 116.30L299.09 116.30Z" fill="#00c000"/>
<path d="M304.70 107.11L307.00 111.48L302.40 111.48Z" fill="#00c000"/>
<path d="M308.01 103.84L310.31 108.21L305.71 108.21Z" fill="#00c000"/>
<path d="M311.32 102.38L313.62 106.75L309.02 106.75Z" fill="#00c000"/>
<path d="M314.62 102.12L316.92 106.49L312.32 106.49Z" fill="#00c000"/>
<path d="M317.93 103.08L320.23 107.45L315.63 107.45Z" fill="#00c000"/>
<path d="M321.24 104.96L323.54 109.33L318.94 109.33Z" fill="#00c000"/>
<path d="M324.55 108.20L326.85 112.57L322.25 112.57Z" fill="#00c000"/>
<path d="M327.86 112.18L330.16 116.55L325.56 116.55Z" fill="#00c000"/>
<path d="M331.17 115.99L333.47 120.36L328.87 120.36Z" fill="#00c000"/>
<path d="M334.47 120.33L336.77 124.70L332.17 124.70Z" fill="#00c000"/>
<path d="M337.78 125.05L340.08 129.42L335.48 129.42Z" fill="#00c000"/>
<path d="M341.09 130.10L343.39 134.47L338.79 134.47Z" fill="#00c000"/>
<path d="M344.40 135.05L346.70 139.42L342.10 139.42Z" fill="#00c000"/>
<path d="M347.71 139.94L350.01 144.31L345.41 144.31Z" fill="#00c000"/>
<path d="M351.02 145.01L353.32 149.38L348.72 149.38Z" fill="#00c000"/>
<path d="M354.32 150.07L356.62 154.44L352.02 154.44Z" fill="#00c000"/>
<path d="M357.63 155.10L359.93 159.47L355.33 159.47Z" fill="#00c000"/>
<path d="M360.94 160.51L363.24 164.88L358.64 164.88Z" fill="#00c000"/>
<path d="M364.25 166.08L366.55 170.45L361.95 170.45Z" fill="#00c000"/>
<path d="M367.56 171.71L369.86 176.08L365.26 176.08Z" fill="#00c000"/>
<g clip-path="url(#ci)"><path d="M235.50 187.34L236.63 187.06L237.77 186.77L238.90 186.48L240.04 186.16L241.17 185.82L242.31 185.45L243.44 185.04L244.58 184.58L245.71 184.10L246.84 183.60L247.98 183.08L249.11 182.54L250.25 182.00L251.38 181.44L252.52 180.84L253.65 180.21L254.79 179.53L255.92 178.78L257.05 177.97L258.19 177.11L259.32 176.19L260.46 175.24L261.59 174.26L262.73 173.26L263.86 172.23L265.00 171.16L266.13 170.03L267.26 168.85L268.40 167.62L269.53 166.33L270.67 164.98L271.80 163.54L272.94 162.00L274.07 160.34L275.21 158.52L276.34 156.58L277.47 154.54L278.61 152.35L279.74 150.03L280.88 147.74L282.01 145.57L283.15 143.48L284.28 141.43L285.42 139.37L286.55 137.27L287.68 135.15L288.82 133.03L289.95 130.95L291.09 128.90L292.22 126.88L293.36 124.90L294.49 122.95L295.63 121.03L296.76 119.16L297.89 117.33L299.03 115.48L300.16 113.72L301.30 112.11L302.43 110.62L303.57 109.24L304.70 108.06L305.84 107.04L306.97 106.14L308.11 105.47L309.24 105.08L310.37 104.76L311.51 104.53L312.64 104.43L313.78 104.47L314.91 104.66L316.05 104.94L317.18 105.27L318.32 105.64L319.45 106.12L320.58 106.72L321.72 107.42L322.85 108.20L323.99 109.20L325.12 110.40L326.26 111.70L327.39 113.02L328.53 114.27L329.66 115.49L330.79 116.75L331.93 118.09L333.06 119.56L334.20 121.15L335.33 122.83L336.47 124.59L337.60 126.40L338.74 128.26L339.87 130.18L341.00 132.10L342.14 133.99L343.27 135.80L344.41 137.53L345.54 139.21L346.68 140.88L347.81 142.58L348.95 144.30L350.08 146.04L351.21 147.79L352.35 149.53L353.48 151.26L354.62 152.97L355.75 154.66L356.89 156.38L358.02 158.14L359.16 159.96L360.29 161.83L361.42 163.72L362.56 165.62L363.69 167.52L364.83 169.43L365.96 171.35L367.10 173.28L368.23 175.20L369.37 177.13L370.50 179.05" fill="none" stroke="#0000ff" stroke-width="0.55" /></g>
<path d="M240.54 188.66L242.84 184.29L238.24 184.29Z" fill="#0000ff"/>
<path d="M258.99 179.11L261.29 174.74L256.69 174.74Z" fill="#0000ff"/>
<path d="M264.38 174.40L266.68 170.03L262.08 170.03Z" fill="#0000ff"/>
<path d="M268.16 170.53L270.46 166.16L265.86 166.16Z" fill="#0000ff"/>
<path d="M271.40 166.71L273.70 162.34L269.10 162.34Z" fill="#0000ff"/>
<path d="M274.02 163.06L276.32 158.69L271.72 158.69Z" fill="#0000ff"/>
<path d="M276.75 158.50L279.05 154.13L274.45 154.13Z" fill="#0000ff"/>
<path d="M280.35 151.43L282.65 147.06L278.05 147.06Z" fill="#0000ff"/>
<path d="M283.99 144.59L286.29 140.22L281.69 140.22Z" fill="#0000ff"/>
<path d="M287.96 137.28L290.26 132.91L285.66 132.91Z" fill="#0000ff"/>
<path d="M291.24 131.28L293.54 126.91L288.94 126.91Z" fill="#0000ff"/>
<path d="M294.62 125.37L296.92 121.00L292.32 121.00Z" fill="#0000ff"/>
<path d="M297.90 119.97L300.20 115.60L295.60 115.60Z" fill="#0000ff"/>
<path d="M301.39 114.63L303.69 110.26L299.09 110.26Z" fill="#0000ff"/>
<path d="M304.70 110.70L307.00 106.33L302.40 106.33Z" fill="#0000ff"/>
<path d="M308.01 108.17L310.31 103.80L305.71 103.80Z" fill="#0000ff"/>
<path d="M311.32 107.21L313.62 102.84L309.02 102.84Z" fill="#0000ff"/>
<path d="M314.62 107.24L316.92 102.87L312.32 102.87Z" fill="#0000ff"/>
<path d="M317.93 108.15L320.23 103.78L315.63 103.78Z" fill="#0000ff"/>
<path d="M321.24 109.76L323.54 105.39L318.94 105.39Z" fill="#0000ff"/>
<path d="M324.55 112.42L326.85 108.05L322.25 108.05Z" fill="#0000ff"/>
<path d="M327.86 116.19L330.16 111.82L325.56 111.82Z" fill="#0000ff"/>
<path d="M331.17 119.82L333.47 115.45L328.87 115.45Z" fill="#0000ff"/>
<path d="M334.47 124.19L336.77 119.82L332.17 119.82Z" fill="#0000ff"/>
<path d="M337.78 129.33L340.08 124.96L335.48 124.96Z" fill="#0000ff"/>
<path d="M341.09 134.89L343.39 130.52L338.79 130.52Z" fill="#0000ff"/>
<path d="M344.40 140.16L346.70 135.79L342.10 135.79Z" fill="#0000ff"/>
<path d="M347.71 145.07L350.01 140.70L345.41 140.70Z" fill="#0000ff"/>
<path d="M351.02 150.13L353.32 145.76L348.72 145.76Z" fill="#0000ff"/>
<path d="M354.32 155.17L356.62 150.80L352.02 150.80Z" fill="#0000ff"/>
<path d="M357.63 160.18L359.93 155.81L355.33 155.81Z" fill="#0000ff"/>
<path d="M360.94 165.56L363.24 161.19L358.64 161.19Z" fill="#0000ff"/>
<path d="M364.25 171.10L366.55 166.73L361.95 166.73Z" fill="#0000ff"/>
<path d="M367.56 176.70L369.86 172.33L365.26 172.33Z" fill="#0000ff"/>
<g clip-path="url(#ci)"><path d="M258.19 177.08L258.19 177.08L259.32 176.13L260.46 175.13L261.59 174.11L262.73 173.06L263.86 171.95L265.00 170.79L266.13 169.57L267.26 168.30L268.40 166.97L269.53 165.58L270.67 164.12L271.80 162.57L272.94 160.92L274.07 159.14L275.21 157.24L276.34 155.26L277.47 153.12L278.61 150.86L279.74 148.61L280.88 146.47L282.01 144.43L283.15 142.41L284.28 140.40L285.42 138.35L286.55 136.27L287.68 134.20L288.82 132.15L289.95 130.14L291.09 128.15L292.22 126.20L293.36 124.28L294.49 122.40L295.63 120.55L296.76 118.75L297.89 116.94L299.03 115.19L300.16 113.63L301.30 112.27L302.43 111.01L303.57 109.91L304.70 109.00L305.84 108.16L306.97 107.43L308.11 106.88L309.24 106.54L310.37 106.25L311.51 106.02L312.64 105.88L313.78 105.85L314.91 105.96L316.05 106.18L317.18 106.47L318.32 106.80L319.45 107.17L320.58 107.67L321.72 108.27L322.85 108.95L323.99 109.74L325.12 110.74L326.26 111.90L327.39 113.15L328.53 114.39L329.66 115.57L330.79 116.72L331.93 117.88L333.06 119.08L334.20 120.35L335.33 121.70L336.47 123.12L337.60 124.58L338.74 126.09L339.87 127.63L341.00 129.23L342.14 130.88L343.27 132.56L344.41 134.26L345.54 135.94L346.68 137.63L347.81 139.34L348.95 141.06L350.08 142.78L351.21 144.48L352.35 146.14L353.48 147.67L354.62 149.10L355.75 150.46L356.89 151.77L358.02 152.95L359.16 153.94L360.29 154.84L361.42 155.77L362.56 156.62L363.69 157.39L364.83 158.37L365.96 159.86L367.10 161.63L368.23 163.44L369.37 165.26L370.50 167.09" fill="none" stroke="#7f7f7f" stroke-width="0.55" /></g>
<path d="M258.19 174.58L260.69 177.08L258.19 179.58L255.69 177.08Z" fill="#7f7f7f"/>
<path d="M270.82 161.42L273.32 163.92L270.82 166.42L268.32 163.92Z" fill="#7f7f7f"/>
<path d="M277.73 150.11L280.23 152.61L277.73 155.11L275.23 152.61Z" fill="#7f7f7f"/>
<path d="M283.19 139.83L285.69 142.33L283.19 144.83L280.69 142.33Z" fill="#7f7f7f"/>
<path d="M287.20 132.59L289.70 135.09L287.20 137.59L284.70 135.09Z" fill="#7f7f7f"/>
<path d="M290.44 126.79L292.94 129.29L290.44 131.79L287.94 129.29Z" fill="#7f7f7f"/>
<path d="M293.24 121.98L295.74 124.48L293.24 126.98L290.74 124.48Z" fill="#7f7f7f"/>
<path d="M295.89 117.62L298.39 120.12L295.89 122.62L293.39 120.12Z" fill="#7f7f7f"/>
<path d="M299.61 111.86L302.11 114.36L299.61 116.86L297.11 114.36Z" fill="#7f7f7f"/>
<path d="M303.21 107.74L305.71 110.24L303.21 112.74L300.71 110.24Z" fill="#7f7f7f"/>
<path d="M307.07 104.88L309.57 107.38L307.07 109.88L304.57 107.38Z" fill="#7f7f7f"/>
<path d="M310.42 103.74L312.92 106.24L310.42 108.74L307.92 106.24Z" fill="#7f7f7f"/>
<path d="M313.91 103.35L316.41 105.85L313.91 108.35L311.41 105.85Z" fill="#7f7f7f"/>
<path d="M317.11 103.96L319.61 106.46L317.11 108.96L314.61 106.46Z" fill="#7f7f7f"/>
<path d="M320.35 105.06L322.85 107.56L320.35 110.06L317.85 107.56Z" fill="#7f7f7f"/>
<path d="M323.96 107.21L326.46 109.71L323.96 112.21L321.46 109.71Z" fill="#7f7f7f"/>
<path d="M327.45 110.71L329.95 113.21L327.45 115.71L324.95 113.21Z" fill="#7f7f7f"/>
<path d="M330.54 113.96L333.04 116.46L330.54 118.96L328.04 116.46Z" fill="#7f7f7f"/>
<path d="M333.93 117.54L336.43 120.04L333.93 122.54L331.43 120.04Z" fill="#7f7f7f"/>
<path d="M337.20 121.56L339.70 124.06L337.20 126.56L334.70 124.06Z" fill="#7f7f7f"/>
<path d="M340.44 125.93L342.94 128.43L340.44 130.93L337.94 128.43Z" fill="#7f7f7f"/>
<path d="M343.83 130.89L346.33 133.39L343.83 135.89L341.33 133.39Z" fill="#7f7f7f"/>
<path d="M347.03 135.67L349.53 138.17L347.03 140.67L344.53 138.17Z" fill="#7f7f7f"/>
<path d="M350.38 140.73L352.88 143.23L350.38 145.73L347.88 143.23Z" fill="#7f7f7f"/>
<path d="M353.73 145.49L356.23 147.99L353.73 150.49L351.23 147.99Z" fill="#7f7f7f"/>
<path d="M357.08 149.48L359.58 151.98L357.08 154.48L354.58 151.98Z" fill="#7f7f7f"/>
<path d="M360.35 152.39L362.85 154.89L360.35 157.39L357.85 154.89Z" fill="#7f7f7f"/>
<path d="M363.81 154.98L366.31 157.48L363.81 159.98L361.31 157.48Z" fill="#7f7f7f"/>
<path d="M367.08 159.11L369.58 161.61L367.08 164.11L364.58 161.61Z" fill="#7f7f7f"/>
<path d="M370.43 164.48L372.93 166.98L370.43 169.48L367.93 166.98Z" fill="#7f7f7f"/>
</g>
<g id="legend" style="filter:blur(0.35px)">
<path d="M121.8 26.15H156.8" stroke="#000000" stroke-width="0.55"/>
<rect x="137.30" y="23.95" width="4.40" height="4.40" fill="#000000"/>
<path d="M121.8 39.6H156.8" stroke="#ff0000" stroke-width="0.55"/>
<circle cx="139.50" cy="39.60" r="2.40" fill="#ff0000"/>
<path d="M121.8 52.55H156.8" stroke="#00c000" stroke-width="0.55"/>
<path d="M139.50 49.91L141.80 54.27L137.20 54.27Z" fill="#00c000"/>
<path d="M121.8 66.3H156.8" stroke="#0000ff" stroke-width="0.55"/>
<path d="M139.50 68.94L141.80 64.58L137.20 64.58Z" fill="#0000ff"/>
<path d="M121.8 79.3H156.8" stroke="#7f7f7f" stroke-width="0.55"/>
<path d="M139.50 76.80L142.00 79.30L139.50 81.80L137.00 79.30Z" fill="#7f7f7f"/>
</g>
<g id="labels" style="filter:grayscale(1)">
<text x="63.6" y="30.15" font-style="italic" font-size="15" textLength="8.6" lengthAdjust="spacingAndGlyphs">α</text><text x="75.4" y="30.25" textLength="9.6" lengthAdjust="spacingAndGlyphs">=</text><text x="90.2" y="30.25">1.00</text>
<text x="63.6" y="43.60" font-style="italic" font-size="15" textLength="8.6" lengthAdjust="spacingAndGlyphs">α</text><text x="75.4" y="43.70" textLength="9.6" lengthAdjust="spacingAndGlyphs">=</text><text x="90.2" y="43.70">0.99</text>
<text x="63.6" y="56.55" font-style="italic" font-size="15" textLength="8.6" lengthAdjust="spacingAndGlyphs">α</text><text x="75.4" y="56.65" textLength="9.6" lengthAdjust="spacingAndGlyphs">=</text><text x="90.2" y="56.65">0.95</text>
<text x="63.6" y="70.30" font-style="italic" font-size="15" textLength="8.6" lengthAdjust="spacingAndGlyphs">α</text><text x="75.4" y="70.40" textLength="9.6" lengthAdjust="spacingAndGlyphs">=</text><text x="90.2" y="70.40">0.90</text>
<text x="63.6" y="83.30" font-style="italic" font-size="15" textLength="8.6" lengthAdjust="spacingAndGlyphs">α</text><text x="75.4" y="83.40" textLength="9.6" lengthAdjust="spacingAndGlyphs">=</text><text x="90.2" y="83.40">0.60</text>
<text x="49.4" y="19.05" text-anchor="end">10<tspan dy="-5.0" dx="0.4" font-size="9.2">1</tspan></text>
<text x="49.4" y="73.00" text-anchor="end">10<tspan dy="-5.0" dx="0.4" font-size="9.2">0</tspan></text>
<text x="49.4" y="116.70" text-anchor="end">10<tspan dy="-5.0" dx="0.9" font-size="9.2">−</tspan><tspan dx="0.9" font-size="9.2">1</tspan></text>
<text x="49.4" y="179.20" text-anchor="end">10<tspan dy="-5.0" dx="0.9" font-size="9.2">−</tspan><tspan dx="0.9" font-size="9.2">2</tspan></text>
<text x="49.4" y="232.40" text-anchor="end">10<tspan dy="-5.0" dx="0.9" font-size="9.2">−</tspan><tspan dx="0.9" font-size="9.2">3</tspan></text>
<text x="137.75" y="246.3" text-anchor="middle">10<tspan dy="-5.0" dx="0.4" font-size="9.2">0</tspan></text>
<text x="252.05" y="246.3" text-anchor="middle">10<tspan dy="-5.0" dx="0.4" font-size="9.2">1</tspan></text>
<text x="366.35" y="246.3" text-anchor="middle">10<tspan dy="-5.0" dx="0.4" font-size="9.2">2</tspan></text>
<text x="226.5" y="196.40" text-anchor="end">0</text>
<text x="226.5" y="178.70" text-anchor="end">0.2</text>
<text x="226.5" y="161.00" text-anchor="end">0.4</text>
<text x="226.5" y="143.30" text-anchor="end">0.6</text>
<text x="226.5" y="125.60" text-anchor="end">0.8</text>
<text x="226.5" y="107.90" text-anchor="end">1</text>
<text x="239.70" y="209.0" text-anchor="middle">10<tspan dy="-5.0" dx="0.9" font-size="9.2">−</tspan><tspan dx="0.9" font-size="9.2">1</tspan></text>
<text x="281.30" y="209.0" text-anchor="middle">10<tspan dy="-5.0" dx="0.4" font-size="9.2">0</tspan></text>
<text x="322.90" y="209.0" text-anchor="middle">10<tspan dy="-5.0" dx="0.4" font-size="9.2">1</tspan></text>
<text x="364.50" y="209.0" text-anchor="middle">10<tspan dy="-5.0" dx="0.4" font-size="9.2">2</tspan></text>
<text x="103.4" y="206.8" font-size="16">(</text><text x="108.7" y="207.0" font-size="14">a</text><text x="114.8" y="206.8" font-size="16">)</text>
<text x="207.50" y="265.30" font-style="italic" font-size="14.2" style="fill:#333" textLength="7.4" lengthAdjust="spacingAndGlyphs">τ</text><path d="M217.10 268.60L222.50 255.40" stroke="#1a1a1a" stroke-width="0.75" fill="none"/><text x="222.90" y="265.30" font-style="italic" font-size="14.2" style="fill:#333" textLength="6.4" lengthAdjust="spacingAndGlyphs">τ</text><text x="229.30" y="267.70" font-style="italic" font-size="9.4" style="fill:#333">η</text>
<text x="290.90" y="223.00" font-style="italic" font-size="14.2" style="fill:#333" textLength="7.4" lengthAdjust="spacingAndGlyphs">τ</text><path d="M300.50 226.30L305.90 213.10" stroke="#1a1a1a" stroke-width="0.75" fill="none"/><text x="306.30" y="223.00" font-style="italic" font-size="14.2" style="fill:#333" textLength="6.4" lengthAdjust="spacingAndGlyphs">τ</text><text x="312.70" y="225.40" font-style="italic" font-size="9.4" style="fill:#333">η</text>
<g transform="translate(14.2 140.8) rotate(-90)"><text x="0.00" y="0.00" font-size="14.2" font-style="italic">S</text><text x="10.40" y="-4.90" font-size="9.2" font-style="italic">L</text><text x="7.40" y="2.70" font-size="9.2">2</text><text x="16.40" y="0.00" font-size="16">(</text><text x="22.30" y="0.00" font-size="15.5" font-style="italic">τ</text><text x="29.60" y="0.00" font-size="16">)</text></g>
<g transform="translate(199.6 181.7) rotate(-90)"><text x="0.00" y="0.00" font-size="14.2" font-style="italic">S</text><text x="9.40" y="-4.90" font-size="9.2" font-style="italic">L</text><text x="7.00" y="2.70" font-size="9.2">2</text><text x="13.60" y="0.00" font-size="16">(</text><text x="19.00" y="0.00" font-size="15.5" font-style="italic">τ</text><text x="25.20" y="0.00" font-size="16">)</text><path d="M31.60 3.3L37.00 -9.9" stroke="#1a1a1a" stroke-width="0.75" fill="none"/><text x="39.20" y="0.00" font-size="16">(</text><text x="45.00" y="0.00" font-size="14.2" font-style="italic">C</text><text x="54.00" y="2.40" font-size="10">0</text><text x="59.60" y="0.00" font-size="15.5" font-style="italic">ε</text><text x="65.40" y="0.00" font-size="15.5" font-style="italic">τ</text><text x="71.60" y="0.00" font-size="16">)</text></g>
</g>
</svg>
</body></html>
